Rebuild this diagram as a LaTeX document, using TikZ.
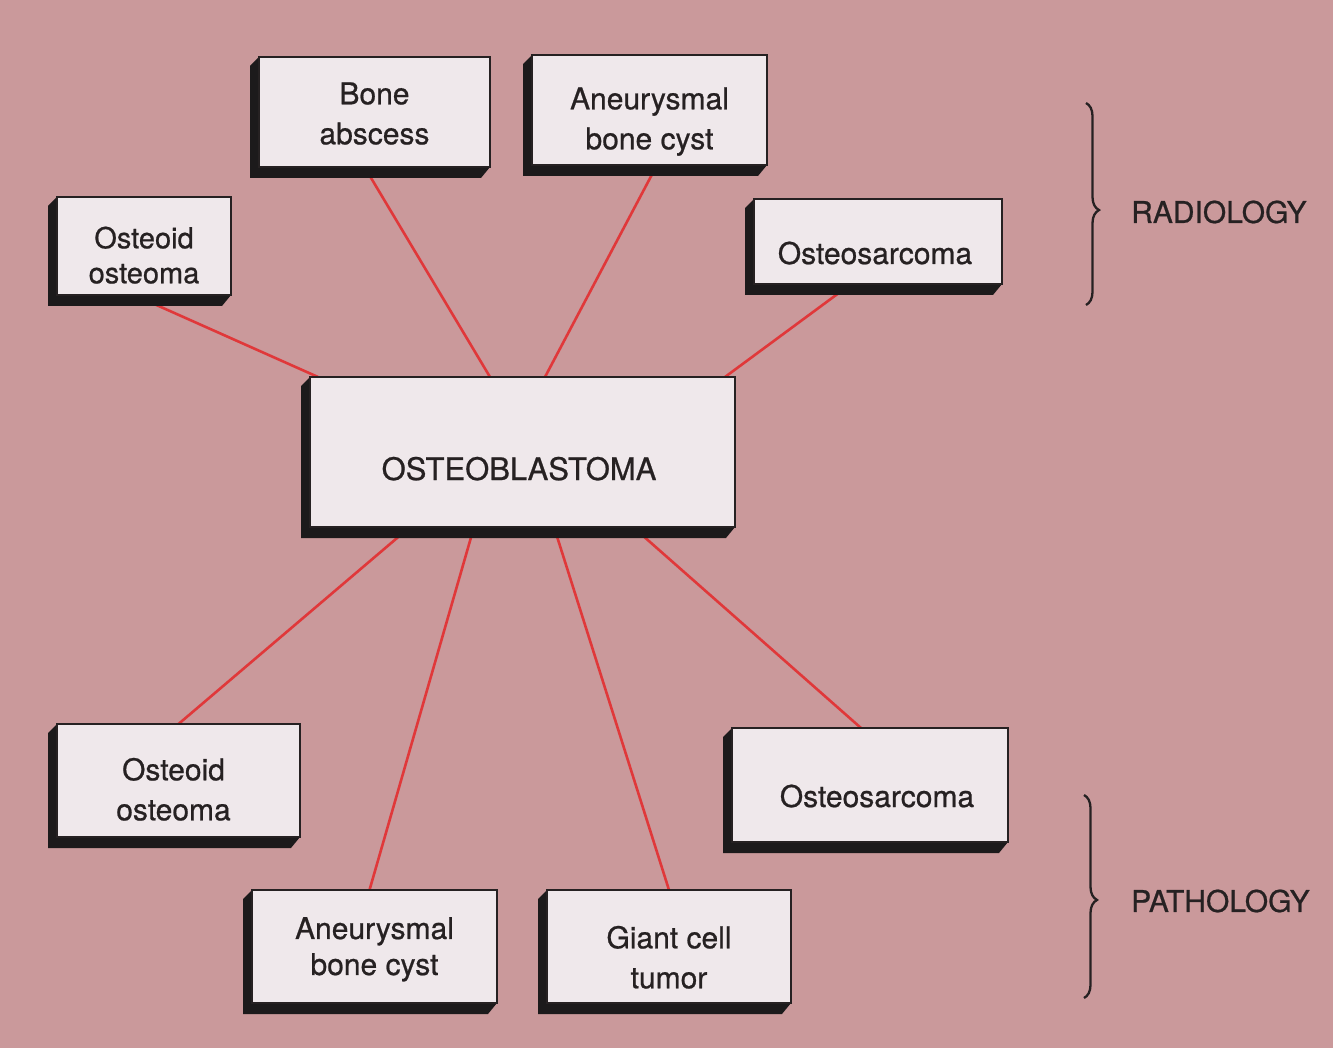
\documentclass[tikz,border=0pt]{standalone}
\usepackage{fontspec}
\setmainfont{TeX Gyre Heros}
\newfontfamily\labelfont{TeX Gyre Heros}[FakeBold=0.7]
\usetikzlibrary{calc,decorations.pathreplacing}

\definecolor{paper}{HTML}{CA999B}
\definecolor{face}{HTML}{EFE8EB}
\definecolor{ink}{HTML}{262122}
\definecolor{wire}{HTML}{E0383A}
\definecolor{slabside}{HTML}{1C1A1B}

\pgfdeclarelayer{paperlayer}
\pgfdeclarelayer{wirelayer}
\pgfdeclarelayer{slablayer}
\pgfsetlayers{paperlayer,wirelayer,slablayer,main}

% text block lowered by #1 inside a box, without changing the box size
\newcommand\lift[2]{\raisebox{#1}[0pt][0pt]{\begin{tabular}{@{}c@{}}#2\end{tabular}}}
% dark extruded side (left and bottom) of a box
\newcommand\slab[1]{%
  \fill[slabside] (#1.north west) -- ++(-9,9) -- ($(#1.south west)+(-9,11)$)
    -- ($(#1.south east)+(-9,11)$) -- (#1.south east) -- cycle;}

\tikzset{
  box/.style={draw=ink, line width=1.2pt, fill=face, inner sep=0pt, outer sep=0pt,
    text=ink, font=\labelfont\fontsize{30}{40}\selectfont},
  link/.style={draw=wire, line width=2.6pt},
  group/.style={draw=ink, line width=2.3pt,
    decorate, decoration={brace, amplitude=13pt, aspect=#1}},
  grouplabel/.style={anchor=west, inner sep=0pt, text=ink,
    font=\labelfont\fontsize{30}{36}\selectfont}
}

\begin{document}
\begin{tikzpicture}[x=1pt, y=-1pt]
  \useasboundingbox (0,0) rectangle (1333,1048);
  \begin{pgfonlayer}{paperlayer}
    \fill[paper] (0,0) rectangle (1333,1048);
  \end{pgfonlayer}

  % radiology boxes
  \node[box, minimum width=174pt, minimum height=98pt, font=\labelfont\fontsize{29}{35}\selectfont]
    (oo1) at (144,246) {\lift{-19pt}{Osteoid\\osteoma}};
  \node[box, minimum width=231pt, minimum height=110pt] (ba) at (374.5,112)
    {\lift{-10.5pt}{Bone\\abscess}};
  \node[box, minimum width=235pt, minimum height=110pt] (abc1) at (649.5,110)
    {\lift{-17.5pt}{Aneurysmal\\bone cyst}};
  \node[box, minimum width=248pt, minimum height=85pt] (os1) at (878,241.5)
    {\raisebox{-22.5pt}[0pt][0pt]{Osteosarcoma\hspace*{6pt}}};

  % central box
  \node[box, minimum width=425pt, minimum height=150pt, font=\labelfont\fontsize{31}{40}\selectfont]
    (ob) at (522.5,452) {\raisebox{-28pt}[0pt][0pt]{OSTEOBLASTOMA\hspace*{7pt}}};

  % pathology boxes
  \node[box, minimum width=243pt, minimum height=113pt] (oo2) at (178.5,780.5)
    {\lift{-18pt}{Osteoid\\osteoma}\hspace*{10pt}};
  \node[box, minimum width=245pt, minimum height=113pt, font=\labelfont\fontsize{30}{36}\selectfont]
    (abc2) at (374.5,946.5) {\lift{-9.5pt}{Aneurysmal\\bone cyst}};
  \node[box, minimum width=244pt, minimum height=113pt] (gct) at (669,946.5)
    {\lift{-20pt}{Giant cell\\tumor}};
  \node[box, minimum width=276pt, minimum height=114pt] (os2) at (870,785)
    {\hspace*{14pt}\raisebox{-22pt}[0pt][0pt]{Osteosarcoma}};

  % extruded sides
  \begin{pgfonlayer}{slablayer}
    \foreach \b in {oo1,ba,abc1,os1,ob,oo2,abc2,gct,os2} {\slab{\b}}
  \end{pgfonlayer}

  % connectors
  \begin{pgfonlayer}{wirelayer}
    \draw[link] ([xshift=-10pt]oo1.south) -- ([xshift=8pt]ob.north west);
    \draw[link] ([xshift=-10pt]ba.south) -- ([xshift=-32.5pt]ob.north);
    \draw[link] ([xshift=7.5pt]abc1.south) -- ([xshift=22.5pt]ob.north);
    \draw[link] ([xshift=-27pt]os1.south) -- ([xshift=-10pt]ob.north east);
    \draw[link] ([xshift=-112.5pt]ob.south) -- (oo2.north);
    \draw[link] ([xshift=-48.5pt]ob.south) -- ([xshift=-5pt]abc2.north);
    \draw[link] ([xshift=31.5pt]ob.south) -- (gct.north);
    \draw[link] ([xshift=110.5pt]ob.south) -- ([xshift=-9pt]os2.north);
  \end{pgfonlayer}

  % group braces and their labels
  \coordinate (radtop) at (1086,103);
  \coordinate (radbot) at (1086,305);
  \coordinate (pathtop) at (1084,795);
  \coordinate (pathbot) at (1084,998);
  \draw[group=0.53] (radtop) -- (radbot);
  \draw[group=0.517] (pathtop) -- (pathbot);
  \node[grouplabel] (rad) at (1131,212) {RADIOLOGY};
  \node[grouplabel] (path) at (1131,901) {PATHOLOGY};
\end{tikzpicture}
\end{document}
